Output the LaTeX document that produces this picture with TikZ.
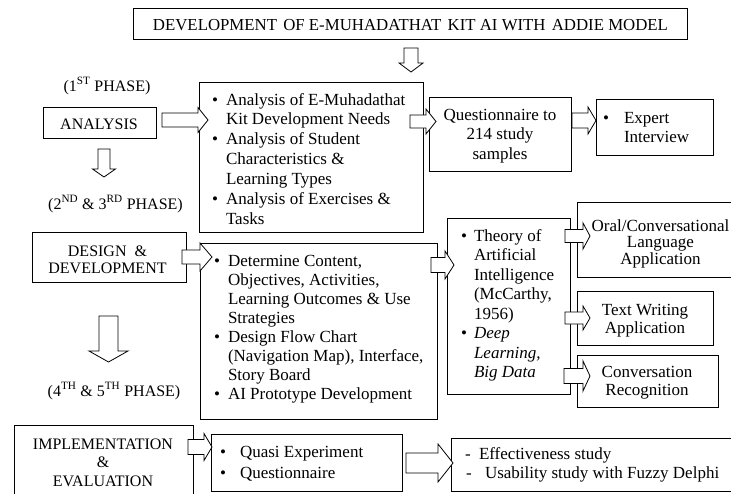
\documentclass[tikz,border=0pt]{standalone}
\usepackage{fontspec}
\setmainfont{Liberation Serif}
\usetikzlibrary{fit}
\newcommand\bodyfont{\fontsize{17}{19.5}\selectfont}
\newcommand\capfont{\fontsize{16}{19}\selectfont}
\newcommand\titlefont{\fontsize{16.8}{19}\selectfont}
\tikzset{
  box/.style={draw=black, line width=0.8pt, inner sep=0pt, fill=white},
  txt/.style={inner sep=0pt, outer sep=0pt, font=\bodyfont},
  caplabel/.style={inner sep=0pt, outer sep=0pt, font=\capfont},
  blockarrow/.style={draw=black, line width=0.8pt, fill=white, line join=miter},
}
% right block arrow: tail x, tip x, centre y, shaft half, head half, head length
\newcommand\rarr[6]{\draw[blockarrow] (#1,#3-#4) -- (#2-#6,#3-#4) -- (#2-#6,#3-#5) -- (#2,#3) -- (#2-#6,#3+#5) -- (#2-#6,#3+#4) -- (#1,#3+#4) -- cycle;}
% down block arrow: centre x, top y, tip y, shaft half, head half, head length
\newcommand\darr[6]{\draw[blockarrow] (#1-#4,#2) -- (#1-#4,#3-#6) -- (#1-#5,#3-#6) -- (#1,#3) -- (#1+#5,#3-#6) -- (#1+#4,#3-#6) -- (#1+#4,#2) -- cycle;}
% bullet lines: name, bullet x, text x, first baseline, line step, list of flag/text
\newcommand\blines[6]{%
  \foreach \bb/\tx [count=\ii from 0] in {#6} {%
    \pgfmathsetmacro\yy{#4+\ii*#5}%
    \node[txt, anchor=base west] (#1-\ii) at (#3,\yy) {\tx};%
    \ifnum\bb=1 \node[txt, anchor=base west] (#1-b\ii) at (#2,\yy) {\textbullet};\fi
  }}
% centred lines: name, centre x, first baseline, line step, style, list
\newcommand\clines[6]{%
  \foreach \tx [count=\ii from 0] in {#6} {%
    \pgfmathsetmacro\yy{#3+\ii*#4}%
    \node[#5, anchor=base] (#1-\ii) at (#2,\yy) {\tx};}}
\begin{document}
\begin{tikzpicture}[x=1pt,y=-1pt]
\useasboundingbox (0,0) rectangle (731,493);
\clip (0,0) rectangle (731,493);
\fill[white] (0,0) rectangle (731,493);

% boxes
\node[box, fit={(133,8) (687,39)}] (title) {};
\node[box, fit={(43,107) (156,138)}] (ana) {};
\node[box, fit={(199,82) (423,232)}] (acont) {};
\node[box, fit={(429,97) (571,171)}] (quest) {};
\node[box, fit={(596,99) (713,155)}] (expert) {};
\node[box, fit={(32,232) (186,282)}] (design) {};
\node[box, fit={(200,243) (437,419)}] (dcont) {};
\node[box, fit={(447,218) (570,394)}] (ai) {};
\node[box, fit={(577,202) (745,277)}] (oral) {};
\node[box, fit={(577,291) (713,345)}] (textw) {};
\node[box, fit={(577,355) (718,407)}] (conv) {};
\node[box, fit={(14,425) (193,505)}] (impl) {};
\node[box, fit={(211,434) (402,491)}] (quasi) {};
\node[box, fit={(451,438) (745,491)}] (eff) {};

% block arrows
\darr{411}{48}{72}{7}{12}{9}
\rarr{162}{208}{120}{7}{12.5}{10}
\rarr{410}{436}{121.5}{6.5}{12.5}{10}
\rarr{572}{596}{120.5}{7.5}{13.5}{8}
\darr{104}{149}{177}{6}{11.5}{8}
\rarr{182}{212}{257}{7}{14}{12}
\rarr{431}{454}{265}{7.5}{14}{9}
\rarr{565}{590}{236}{6.5}{13}{7}
\rarr{565}{590}{318}{6}{12}{7}
\rarr{564}{590}{376}{7.5}{15}{7}
\darr{108.5}{316}{362}{9.5}{19.5}{11}
\rarr{188}{212}{447}{7.5}{13.5}{8}
\rarr{406}{453}{463}{10}{19}{15}

% texts
\node[inner sep=0pt, font=\titlefont, anchor=base] (titletext) at (410.5,30)
  {DEVELOPMENT\hspace{2pt} OF E-MUHADATHAT\hspace{2pt} KIT AI WITH\hspace{2pt} ADDIE MODEL};
\node[caplabel, anchor=base] (ph1) at (107,91) {(1\textsuperscript{ST} PHASE)};
\node[caplabel, anchor=base] (anatext) at (99,129.5) {ANALYSIS};
\node[caplabel, anchor=base] (ph2) at (115.5,209) {(2\textsuperscript{ND} \& 3\textsuperscript{RD} PHASE)};
\clines{destext}{107.5}{256}{17}{caplabel}{{DESIGN\ \ \&},{DEVELOPMENT}}
\node[caplabel, anchor=base] (ph3) at (114,396) {(4\textsuperscript{TH} \& 5\textsuperscript{TH} PHASE)};
\clines{impltext}{103}{449}{18.5}{caplabel}{{IMPLEMENTATION},{\&},{EVALUATION}}

\blines{at}{212}{226}{105}{19.9}{1/{Analysis of E-Muhadathat},0/{Kit Development Needs},1/{Analysis of Student},0/{Characteristics \&},0/{Learning Types},1/{Analysis of Exercises \&},0/{Tasks}}
\clines{qt}{500}{120}{19.5}{txt}{{Questionnaire to},{214 study},{samples}}
\blines{et}{603}{624}{123}{19}{1/{Expert},0/{Interview}}

\blines{dt}{214}{228}{266}{19.14}{1/{Determine Content,},0/{Objectives, Activities,},0/{Learning Outcomes \& Use},0/{Strategies},1/{Design Flow Chart},0/{(Navigation Map), Interface,},0/{Story Board},1/{AI Prototype Development}}
\blines{ait}{461}{474}{241}{19.57}{1/{Theory of},0/{Artificial},0/{Intelligence},0/{(McCarthy,},0/{1956)},1/{\textit{Deep}},0/{\textit{Learning,}},0/{\textit{Big Data}}}

\clines{ot}{660.5}{231}{16.5}{txt}{{Oral/Conversational},{Language},{Application}}
\clines{tw}{645}{315}{18.5}{txt}{{Text Writing},{Application}}
\clines{ct}{647}{377}{18.5}{txt}{{Conversation},{Recognition}}

\blines{qs}{220}{240}{457}{21}{1/{Quasi Experiment},1/{Questionnaire}}
\node[txt, anchor=base west] (ef1d) at (465,459) {-};
\node[txt, anchor=base west] (ef1) at (479,459) {Effectiveness study};
\node[txt, anchor=base west] (ef2d) at (466,478) {-};
\node[txt, anchor=base west] (ef2) at (485,478) {Usability study with Fuzzy Delphi};
\end{tikzpicture}
\end{document}
